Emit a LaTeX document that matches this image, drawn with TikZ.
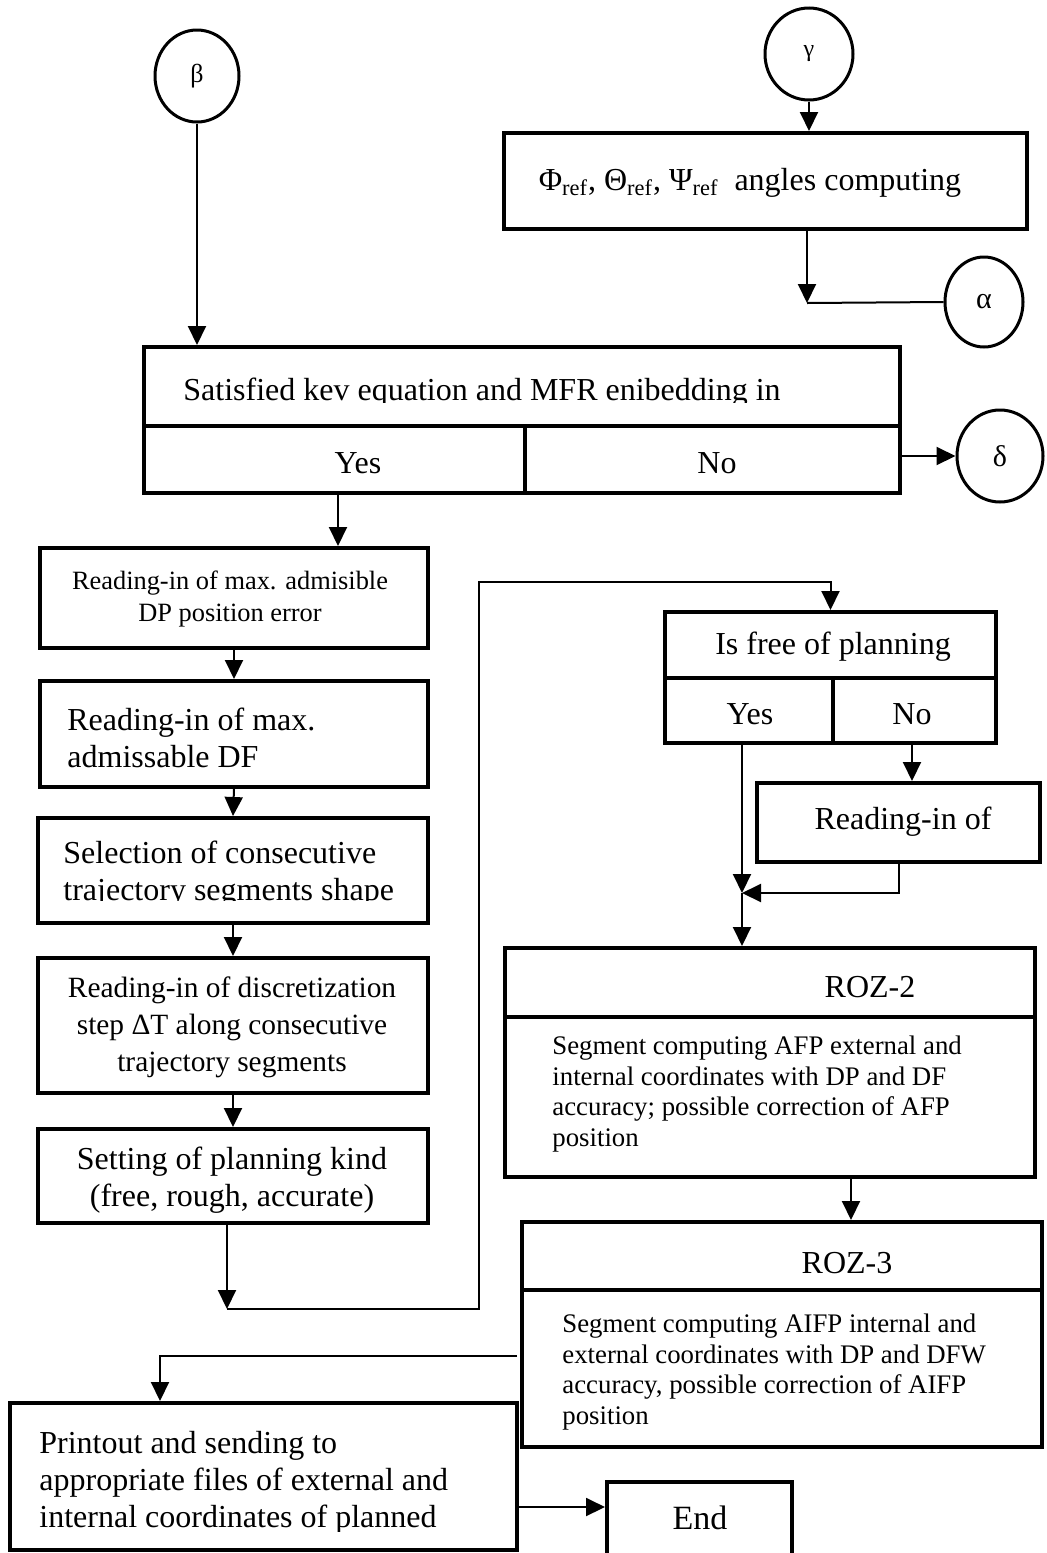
\documentclass[tikz,border=0pt]{standalone}
\usepackage{fontspec}
\setmainfont{Liberation Serif}
\usetikzlibrary{arrows.meta,shapes.geometric,fit}

\begin{document}
\begin{tikzpicture}[x=0.5pt,y=-0.5pt,
  boxst/.style={draw, line width=2pt, inner sep=0pt},
  divider/.style={line width=2pt},
  circ/.style={draw, ellipse, line width=1.5pt, inner sep=0pt},
  conn/.style={line width=1pt},
  arr/.style={conn, -{Triangle[length=9.5pt,width=9pt]}},
  txt/.style={font=\fontsize{16}{18.5}\selectfont, inner sep=0pt},
  midtxt/.style={font=\fontsize{14.7}{18.5}\selectfont, inner sep=0pt},
  smalltxt/.style={font=\fontsize{13.2}{16}\selectfont, inner sep=0pt},
  bodytxt/.style={font=\fontsize{13.4}{15.2}\selectfont, inner sep=0pt},
]
\useasboundingbox (0,0) rectangle (1047,1553);
\clip (0,0) rectangle (1047,1553);

% connector circles
\node[circ, minimum width=42pt, minimum height=46pt, font=\fontsize{13}{15}\selectfont] (beta) at (197,76) {β};
\node[circ, minimum width=44pt, minimum height=46pt, font=\fontsize{12}{14}\selectfont] (gamma) at (809,54) {γ};
\node[circ, minimum width=39pt, minimum height=45pt, font=\fontsize{15}{17}\selectfont] (alpha) at (984,302) {α};
\node[circ, minimum width=43pt, minimum height=46pt, font=\fontsize{15}{17}\selectfont] (delta) at (1000,456) {δ};

% reference angles
\node[boxst, fit={(504,133) (1027,229)}] (phi) {};
\node[txt] (tphi) at (750,183) {Φ\textsubscript{ref}, Θ\textsubscript{ref}, Ψ\textsubscript{ref}\ \ angles computing};

% first decision
\node[boxst, fit={(144,347) (900,493)}] (dec1) {};
\draw[divider] (144,426) -- (900,426);
\draw[divider] (525,426) -- (525,493);
\begin{scope}
  \clip (150,352) rectangle (895,402);
  \node[txt, anchor=base west] (tsat) at (183,400) {Satisfied kev equation and MFR enibedding in};
\end{scope}
\node[txt] (yes1) at (358,463) {Yes};
\node[txt] (no1) at (717,463) {No};

% left column
\node[boxst, fit={(40,548) (428,648)}] (l1) {};
\node[smalltxt, align=center] (tl1) at (230,599) {Reading-in of max. admisible\\DP position error};
\node[boxst, fit={(40,681) (428,787)}] (l2) {};
\node[txt, align=left, anchor=west] (tl2) at (67,738) {Reading-in of max.\\admissable DF};
\node[boxst, fit={(38,818) (428,923)}] (l3) {};
\begin{scope}
  \clip (42,822) rectangle (424,900);
  \node[txt, align=left, anchor=west] (tl3) at (63,874) {Selection of consecutive\\trajectory segments shape};
\end{scope}
\node[boxst, fit={(38,958) (428,1093)}] (l4) {};
\node[midtxt, align=center] (tl4) at (232,1027) {Reading-in of discretization\\step ΔT along consecutive\\trajectory segments};
\node[boxst, fit={(38,1129) (428,1223)}] (l5) {};
\node[txt, align=center] (tl5) at (232,1180) {Setting of planning kind\\(free, rough, accurate)};

% second decision
\node[boxst, fit={(665,612) (996,743)}] (dec2) {};
\draw[divider] (665,678) -- (996,678);
\draw[divider] (833,678) -- (833,743);
\node[txt] (tdec2) at (833,647) {Is free of planning};
\node[txt] (yes2) at (750,714) {Yes};
\node[txt] (no2) at (912,714) {No};

\node[boxst, fit={(757,783) (1040,862)}] (rd) {};
\node[txt] (trd) at (903,822) {Reading-in of};

% ROZ-2
\node[boxst, fit={(505,948) (1035,1177)}] (roz2) {};
\draw[divider] (505,1017) -- (1035,1017);
\node[txt] (troz2) at (870,987) {ROZ-2};
\node[bodytxt, align=left, anchor=west] (broz2) at (552,1094) {Segment computing AFP external and\\internal coordinates with DP and DF\\accuracy; possible correction of AFP\\position};

% ROZ-3
\node[boxst, fit={(522,1222) (1042,1447)}] (roz3) {};
\draw[divider] (522,1290) -- (1042,1290);
\node[txt] (troz3) at (847,1263) {ROZ-3};
\node[bodytxt, align=left, anchor=west] (broz3) at (562,1372) {Segment computing AIFP internal and\\external coordinates with DP and DFW\\accuracy, possible correction of AIFP\\position};

% output
\node[boxst, fit={(10,1403) (517,1550)}] (print) {};
\begin{scope}
  \clip (14,1407) rectangle (513,1531);
  \node[txt, align=left, anchor=west] (tprint) at (39,1483) {Printout and sending to\\appropriate files of external and\\internal coordinates of planned};
\end{scope}
\node[boxst, fit={(607,1482) (792,1620)}] (endbox) {};
\node[txt, font=\fontsize{17}{19}\selectfont] (tend) at (700,1518) {End};

% connectors
\draw[arr] (gamma.south) -- (gamma.south |- phi.north);
\coordinate (j1) at (807,303);
\draw[arr] (phi.south -| j1) -- (j1);
\draw[conn] (alpha.west) -- (j1);
\draw[arr] (beta.south) -- (beta.south |- dec1.north);
\draw[arr] (dec1.east |- delta.west) -- (delta.west);

\coordinate (ys1) at (338,493);
\draw[arr] (ys1) -- (ys1 |- l1.north);
\draw[arr] (l1.south) -- (l2.north);
\draw[arr] (l2.south) -- (l3.north);
\draw[arr] (l3.south) -- (l4.north);
\draw[arr] (l4.south) -- (l5.north);

\coordinate (k1) at (227,1309);
\coordinate (k2) at (479,1309);
\coordinate (k3) at (479,582);
\draw[arr] (l5.south -| k1) -- (k1);
\draw[arr] (k1) -- (k2) -- (k3) -| (dec2.north);

\coordinate (ys2) at (742,743);
\coordinate (j2) at (742,893);
\coordinate (ns2) at (912,743);
\draw[arr] (ys2) -- (j2);
\draw[arr] (ns2) -- (ns2 |- rd.north);
\draw[arr] (rd.south) |- (j2);
\draw[arr] (j2) -- (j2 |- roz2.north);

\coordinate (r2) at (851,1177);
\draw[arr] (r2) -- (r2 |- roz3.north);

\coordinate (r3) at (517,1356);
\coordinate (r3b) at (160,1356);
\draw[arr] (r3) -- (r3b) -- (r3b |- print.north);

\coordinate (p1) at (517,1507);
\draw[arr] (p1) -- (p1 -| endbox.west);
\end{tikzpicture}
\end{document}
